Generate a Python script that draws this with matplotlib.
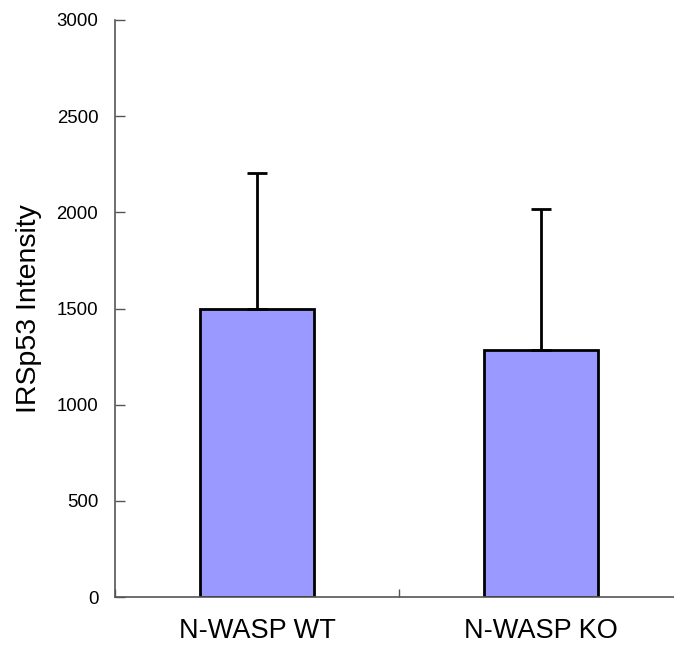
import matplotlib
matplotlib.use("Agg")
import matplotlib.pyplot as plt
from matplotlib.ticker import FixedLocator

plt.rcParams['font.family'] = ['Liberation Sans', 'DejaVu Sans']

groups = ["N-WASP WT", "N-WASP KO"]
means = [1495, 1283]
sd_upper = [712, 734]
y_ticks = [0, 500, 1000, 1500, 2000, 2500, 3000]

fig = plt.figure(figsize=(6.74, 6.57), dpi=100)
ax = fig.add_axes([115 / 674, 60 / 657, 568 / 674, 577 / 657])

x = list(range(len(groups)))
ax.bar(x, means, width=0.4, color="#9999FF", edgecolor="black", linewidth=2, zorder=2)
ax.errorbar(x, means, yerr=[[0] * len(means), sd_upper], fmt="none",
            ecolor="black", elinewidth=2, capsize=7.5, capthick=2, zorder=3)

ax.set_xlim(-0.5, 1.5)
ax.set_ylim(0, 3000)
ax.set_yticks(y_ticks)
ax.set_yticklabels([str(v) for v in y_ticks], fontsize=13.4)

# category boundaries get inward ticks, labels sit at bar centres
ax.xaxis.set_major_locator(FixedLocator([-0.5, 0.5, 1.5]))
ax.xaxis.set_minor_locator(FixedLocator(x))
ax.set_xticklabels([], minor=False)
ax.set_xticklabels(groups, minor=True, fontsize=19.5)
ax.tick_params(axis="x", which="major", direction="in", length=6, width=1, color="#555555")
ax.tick_params(axis="x", which="minor", length=0, pad=15)
ax.tick_params(axis="y", direction="in", length=7, width=1, color="#555555", pad=12)

for side in ("top", "right"):
    ax.spines[side].set_visible(False)
for side in ("left", "bottom"):
    ax.spines[side].set_color("#555555")
    ax.spines[side].set_linewidth(1.2)

ax.set_ylabel("IRSp53 Intensity", fontsize=20.5)
ax.yaxis.set_label_coords((42 - 115) / 568, 0.5)

fig.savefig("out.png", dpi=100)
